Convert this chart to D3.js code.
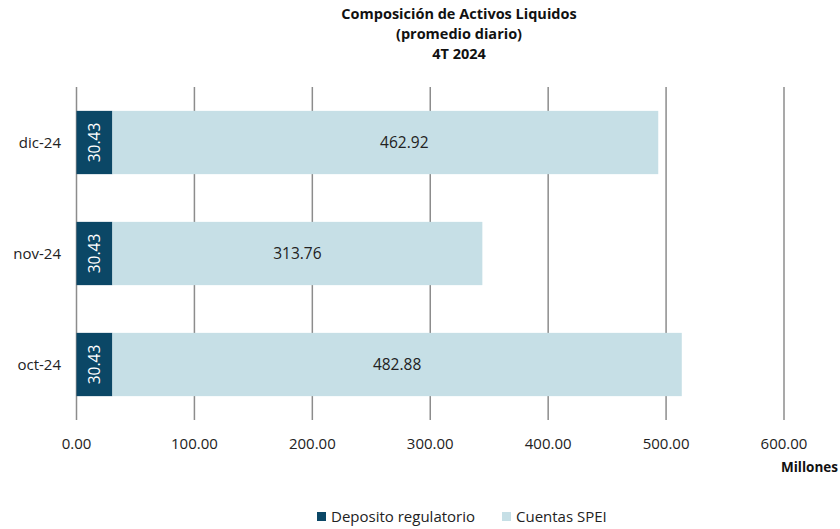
<!DOCTYPE html>
<html>
<head>
  <style>
    body { margin: 0; background: #fff; }
    text { font-family: "Open Sans", "Noto Sans", sans-serif; }
  </style>
</head>
<body>
  <script src="https://d3js.org/d3.v7.min.js"></script>
  <script>
    // Chart data
    var categories = ["dic-24", "nov-24", "oct-24"];
    var deposito = [30.43, 30.43, 30.43];
    var cuentas = [462.92, 313.76, 482.88];
    var ticks = [0, 100, 200, 300, 400, 500, 600];
    var seriesNames = ["Deposito regulatorio", "Cuentas SPEI"];
    var colors = ["#0b4766", "#c6dfe6"];

    var W = 840, H = 529;
    var margin = { top: 87, right: 40, bottom: 109, left: 76.5 };

    var svg = d3.select("body").append("svg")
      .attr("width", W).attr("height", H);

    var x = d3.scaleLinear().domain([0, 600]).range([margin.left, 784]);
    var y = d3.scaleBand().domain(categories)
      .range([margin.top, H - margin.bottom]).paddingInner(0.43).paddingOuter(0.215);

    // Title
    var title = svg.append("text").attr("text-anchor", "middle")
      .attr("font-weight", "bold").attr("font-size", 14.5).attr("fill", "#111");
    ["Composición de Activos Liquidos", "(promedio diario)", "4T 2024"].forEach(function (t, i) {
      title.append("tspan").attr("x", 459).attr("y", 19 + i * 20).text(t);
    });

    // Gridlines
    svg.append("g").selectAll("line").data(ticks).enter().append("line")
      .attr("x1", function (d) { return x(d); }).attr("x2", function (d) { return x(d); })
      .attr("y1", margin.top).attr("y2", H - margin.bottom)
      .attr("stroke", "#8c8c8c").attr("stroke-width", 1.5);

    // Tick labels
    svg.append("g").selectAll("text").data(ticks).enter().append("text")
      .attr("x", function (d) { return x(d); }).attr("y", 449)
      .attr("text-anchor", "middle").attr("font-size", 15).attr("fill", "#222")
      .text(function (d) { return d.toFixed(2); });

    svg.append("text").attr("x", 838).attr("y", 472).attr("text-anchor", "end")
      .attr("font-weight", "bold").attr("font-size", 13.5).attr("fill", "#111").text("Millones");

    // Category labels
    svg.append("g").selectAll("text").data(categories).enter().append("text")
      .attr("x", 61).attr("y", function (d) { return y(d) + y.bandwidth() / 2 + 5; })
      .attr("text-anchor", "end").attr("font-size", 15).attr("fill", "#222")
      .text(function (d) { return d; });

    // Bars
    var rows = categories.map(function (c, i) { return { cat: c, a: deposito[i], b: cuentas[i] }; });

    svg.append("g").selectAll("rect").data(rows).enter().append("rect")
      .attr("x", x(0)).attr("y", function (d) { return y(d.cat); })
      .attr("width", function (d) { return x(d.a) - x(0); })
      .attr("height", y.bandwidth()).attr("fill", colors[0]);

    svg.append("g").selectAll("rect").data(rows).enter().append("rect")
      .attr("x", function (d) { return x(d.a); }).attr("y", function (d) { return y(d.cat); })
      .attr("width", function (d) { return x(d.a + d.b) - x(d.a); })
      .attr("height", y.bandwidth()).attr("fill", colors[1]);

    // Value labels
    svg.append("g").selectAll("text").data(rows).enter().append("text")
      .attr("transform", function (d) {
        return "translate(" + (x(d.a / 2) + 5.5) + "," + (y(d.cat) + y.bandwidth() / 2) + ") rotate(-90)";
      })
      .attr("text-anchor", "middle").attr("font-size", 15.5).attr("fill", "#fff")
      .text(function (d) { return d.a.toFixed(2); });

    // the dic-24 label was nudged right by hand in the original
    var labelShift = [19, 0, 0];
    svg.append("g").selectAll("text").data(rows).enter().append("text")
      .attr("x", function (d, i) { return x(d.a + d.b / 2) + labelShift[i]; })
      .attr("y", function (d) { return y(d.cat) + y.bandwidth() / 2 + 5.5; })
      .attr("text-anchor", "middle").attr("font-size", 15.5).attr("fill", "#222")
      .text(function (d) { return d.b.toFixed(2); });

    // Legend
    var legend = svg.append("g");
    var lx = [317, 502];
    seriesNames.forEach(function (n, i) {
      legend.append("rect").attr("x", lx[i]).attr("y", 512).attr("width", 9).attr("height", 9).attr("fill", colors[i]);
      legend.append("text").attr("x", lx[i] + 14).attr("y", 522).attr("font-size", 15).attr("fill", "#222").text(n);
    });
  </script>
</body>
</html>
